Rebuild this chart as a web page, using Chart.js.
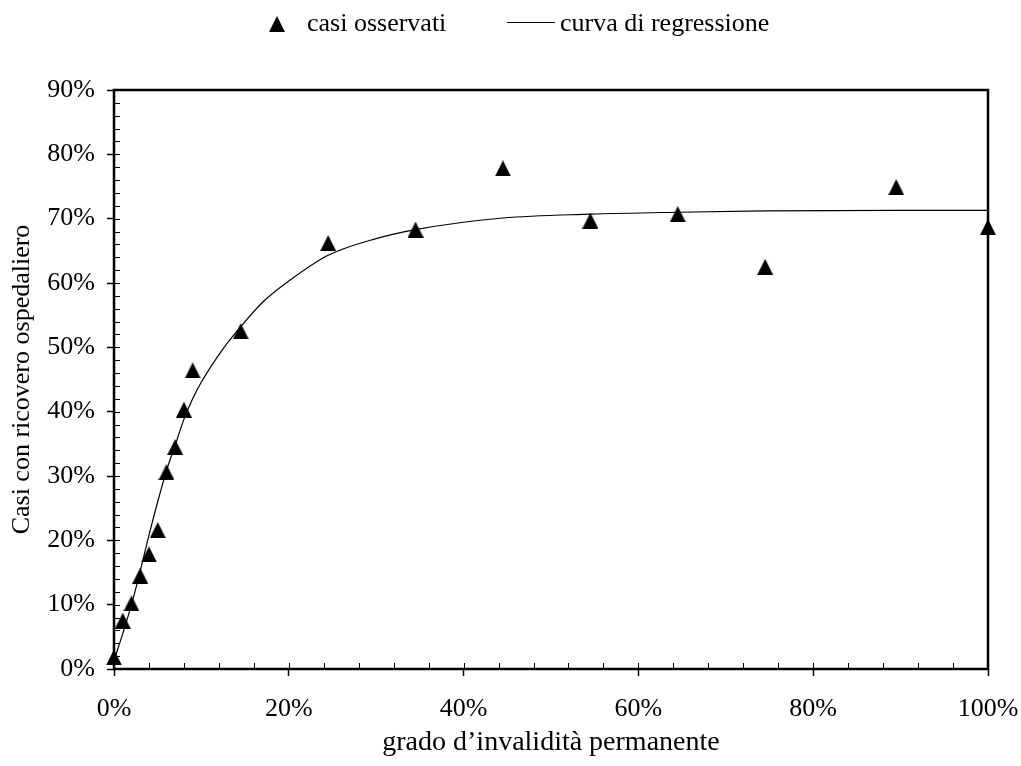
<!DOCTYPE html>
<html>
<head>
<meta charset="utf-8">
<script src="https://cdn.jsdelivr.net/npm/chart.js@4.4.1/dist/chart.umd.min.js"></script>
<style>
  html, body { margin: 0; padding: 0; background: #fff; }
  #wrap { position: relative; width: 1021px; height: 766px; }
  #legend { position: absolute; left: 0; top: 0; width: 1021px; height: 50px; font-family: "Liberation Serif", serif; font-size: 26px; line-height: 26px; color: #000; }
  #legend .txt { position: absolute; top: 10px; white-space: nowrap; }
  #legend .mark { position: absolute; }
</style>
</head>
<body>
<div id="wrap">
  <canvas id="c" width="1021" height="766"></canvas>
  <div id="legend"></div>
</div>
<script>
// ---- data ----
const obsX = [0, 1, 2, 3, 4, 5, 6, 7, 8, 9, 14.5, 24.5, 34.5, 44.5, 54.5, 64.5, 74.5, 89.5, 100];
const obsY = [1.8, 7.5, 10.2, 14.5, 17.8, 21.6, 30.6, 34.5, 40.3, 46.4, 52.5, 66.2, 68.3, 77.8, 69.7, 70.7, 62.5, 74.9, 68.7];
const fitX = [0, 1, 2, 3, 4, 5, 6, 7, 8, 9, 10, 12.5, 14.5, 17, 20, 24.5, 30, 34.5, 44.5, 54.5, 64.5, 74.5, 89.5, 100];
const fitY = [1.3, 5.5, 10.0, 15.2, 20.8, 26.0, 30.8, 34.8, 38.8, 42.0, 44.6, 49.8, 53.2, 57.0, 60.3, 64.3, 66.9, 68.3, 70.1, 70.7, 71.0, 71.2, 71.3, 71.3];
const xTickValues = [0, 20, 40, 60, 80, 100];
const yTickValues = [0, 10, 20, 30, 40, 50, 60, 70, 80, 90];
const seriesNames = ['casi osservati', 'curva di regressione'];
const xTitle = 'grado d\u2019invalidit\u00e0 permanente';
const yTitle = 'Casi con ricovero ospedaliero';

const xMinorStep = 4;
const yMinorStep = 2;

// ---- marker ----
function triangleCanvas(w, h) {
  const c = document.createElement('canvas');
  c.width = w; c.height = h;
  const g = c.getContext('2d');
  g.fillStyle = '#000';
  g.beginPath();
  g.moveTo(w / 2, 0);
  g.lineTo(w, h);
  g.lineTo(0, h);
  g.closePath();
  g.fill();
  return c;
}
const triImg = triangleCanvas(16, 16);

Chart.defaults.font.family = '"Liberation Serif", "Times New Roman", serif';
Chart.defaults.color = '#000';

const framePlugin = {
  id: 'frame',
  afterDraw(chart) {
    const { ctx, chartArea: a, scales } = chart;
    const x = scales.x, y = scales.y;
    ctx.save();
    ctx.strokeStyle = '#000';
    ctx.lineWidth = 1;
    ctx.beginPath();
    for (let v = y.min; v <= y.max; v += yMinorStep) {
      const py = Math.round(y.getPixelForValue(v)) + 0.5;
      ctx.moveTo(a.left, py); ctx.lineTo(a.left + 6, py);
    }
    for (let v = x.min; v <= x.max; v += xMinorStep) {
      const px = Math.round(x.getPixelForValue(v)) + 0.5;
      ctx.moveTo(px, a.bottom); ctx.lineTo(px, a.bottom - 6);
    }
    ctx.stroke();
    ctx.lineWidth = 2.5;
    ctx.strokeRect(a.left, a.top, a.right - a.left, a.bottom - a.top);
    ctx.restore();
  }
};

const chart = new Chart(document.getElementById('c'), {
  type: 'scatter',
  data: {
    datasets: [
      {
        label: seriesNames[0],
        data: obsX.map((v, i) => ({ x: v, y: obsY[i] })),
        pointStyle: triImg,
        pointRadius: 8,
        pointHoverRadius: 8,
        backgroundColor: '#000',
        borderColor: '#000',
        clip: false,
        order: 0
      },
      {
        label: seriesNames[1],
        data: fitX.map((v, i) => ({ x: v, y: fitY[i] })),
        showLine: true,
        pointRadius: 0,
        pointHoverRadius: 0,
        borderColor: '#000',
        backgroundColor: '#000',
        borderWidth: 1.2,
        cubicInterpolationMode: 'monotone',
        order: 1
      }
    ]
  },
  options: {
    responsive: false,
    animation: false,
    devicePixelRatio: 1,
    layout: { padding: { top: 90, right: 33, left: 0, bottom: 0 } },
    plugins: {
      legend: { display: false },
      tooltip: { enabled: false }
    },
    scales: {
      x: {
        type: 'linear',
        min: 0, max: 100,
        afterFit(s) { s.height = 97; s.paddingRight = 10; s.paddingLeft = 0; },
        afterBuildTicks(s) { s.ticks = xTickValues.map(v => ({ value: v })); },
        border: { display: false },
        grid: { drawOnChartArea: false, drawTicks: true, tickLength: 7, tickWidth: 1.5, tickColor: '#000' },
        ticks: { padding: 18, font: { size: 26 }, color: '#000', callback: v => v + '%' },
        title: { display: true, text: xTitle, font: { size: 28 }, color: '#000', padding: { top: 0, bottom: 7 } }
      },
      y: {
        type: 'linear',
        min: 0, max: 90,
        afterFit(s) { s.width = 114; },
        afterBuildTicks(s) { s.ticks = yTickValues.map(v => ({ value: v })); },
        border: { display: false },
        grid: { drawOnChartArea: false, drawTicks: true, tickLength: 7, tickWidth: 1.5, tickColor: '#000' },
        ticks: { padding: 12, font: { size: 26 }, color: '#000', callback: v => v + '%' },
        title: { display: true, text: yTitle, font: { size: 26 }, color: '#000', padding: { top: 7, bottom: 0 } }
      }
    }
  },
  plugins: [framePlugin]
});

// ---- HTML legend built from the chart's datasets ----
(function buildLegend() {
  const lg = document.getElementById('legend');
  const items = chart.data.datasets.map(d => d.label);
  const t = triangleCanvas(16, 16);
  t.className = 'mark';
  t.style.left = '269px'; t.style.top = '16px';
  lg.appendChild(t);
  const s1 = document.createElement('span');
  s1.className = 'txt'; s1.style.left = '307px'; s1.textContent = items[0];
  lg.appendChild(s1);
  const ln = document.createElement('div');
  ln.className = 'mark';
  ln.style.left = '507px'; ln.style.top = '22px'; ln.style.width = '48px'; ln.style.height = '1px'; ln.style.background = '#000';
  lg.appendChild(ln);
  const s2 = document.createElement('span');
  s2.className = 'txt'; s2.style.left = '560px'; s2.textContent = items[1];
  lg.appendChild(s2);
})();
</script>
</body>
</html>
